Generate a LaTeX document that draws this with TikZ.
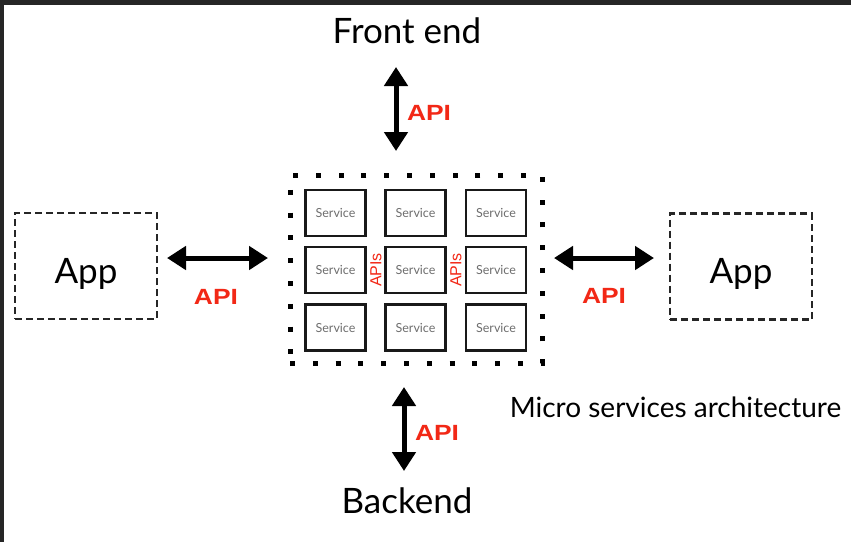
\documentclass[tikz,border=0pt]{standalone}
\usepackage{fontspec}
\usepackage{graphicx}
\setmainfont{Lato}
\newfontfamily\apifont{Liberation Sans}
\usetikzlibrary{arrows.meta}
\definecolor{apired}{RGB}{242,40,22}
\definecolor{framegray}{RGB}{38,38,38}
\definecolor{svcgray}{RGB}{110,110,110}
\tikzset{
  svcbox/.style={draw=black!90, line width=2.2pt, minimum width=60pt, minimum height=46pt, inner sep=0pt, font=\fontsize{12.5}{14}\selectfont, text=svcgray},
  appbox/.style={draw=black!85, line width=2.2pt, dash pattern=on 7pt off 4pt, minimum width=142pt, minimum height=106pt, inner sep=0pt, text height=34pt, text depth=0pt, font=\fontsize{35}{38}\selectfont},
  bigtext/.style={font=\fontsize{35}{38}\selectfont, inner sep=0pt},
  apilabel/.style={font=\apifont\bfseries\fontsize{22}{24}\selectfont, text=apired, inner sep=0pt},
  apislabel/.style={font=\apifont\fontsize{16}{18}\selectfont, text=apired, inner sep=0pt, rotate=90},
  biarrow/.style={line width=5pt, {Triangle[width=23pt,length=19pt]}-{Triangle[width=23pt,length=19pt]}},
  msbox/.style={draw=black, line width=5pt, dash pattern=on 5pt off 17.8pt, minimum width=252pt, minimum height=188pt, inner sep=0pt},
}
\begin{document}
\begin{tikzpicture}[x=1pt,y=-1pt]
\useasboundingbox (0,0) rectangle (851,542);
\fill[white] (0,0) rectangle (851,542);
\fill[framegray] (0,0) rectangle (851,5);
\fill[framegray] (0,0) rectangle (4,542);

% micro services container
\node[msbox] (ms) at (416,269) {};
% services
\node[svcbox] (s11) at (335.5,213) {Service};
\node[svcbox] (s12) at (415.5,213) {Service};
\node[svcbox] (s13) at (496,213) {Service};
\node[svcbox] (s21) at (335.5,270) {Service};
\node[svcbox] (s22) at (415.5,270) {Service};
\node[svcbox] (s23) at (496,270) {Service};
\node[svcbox] (s31) at (335.5,327.5) {Service};
\node[svcbox] (s32) at (415.5,327.5) {Service};
\node[svcbox] (s33) at (496,327.5) {Service};
\node[apislabel] (apis1) at (376,270) {APIs};
\node[apislabel] (apis2) at (456,270) {APIs};

% text nodes
\node[bigtext] (fe) at (407,31) {Front end};
\node[bigtext] (be) at (407,501) {Backend};
\node[font=\fontsize{28}{30}\selectfont, inner sep=0pt] (title) at (675.5,407) {Micro services architecture};

% apps
\node[appbox] (appL) at (86,266) {App};
\node[appbox] (appR) at (741,266.5) {App};

% arrow end points
\coordinate (tA) at (396,67);
\coordinate (tB) at (396,151);
\coordinate (bA) at (404,387);
\coordinate (bB) at (404,471);
\coordinate (lA) at (167,258);
\coordinate (lB) at (268,258);
\coordinate (rA) at (554,258);
\coordinate (rB) at (654,258);

\draw[biarrow] (tA) -- (tB);
\draw[biarrow] (bA) -- (bB);
\draw[biarrow] (lA) -- (lB);
\draw[biarrow] (rA) -- (rB);

% API labels
\node[apilabel] (apiT) at (429,113) {\scalebox{1.2}[1]{API}};
\node[apilabel] (apiB) at (437,433) {\scalebox{1.2}[1]{API}};
\node[apilabel] (apiL) at (216,297) {\scalebox{1.2}[1]{API}};
\node[apilabel] (apiR) at (604,296) {\scalebox{1.2}[1]{API}};
\end{tikzpicture}
\end{document}
